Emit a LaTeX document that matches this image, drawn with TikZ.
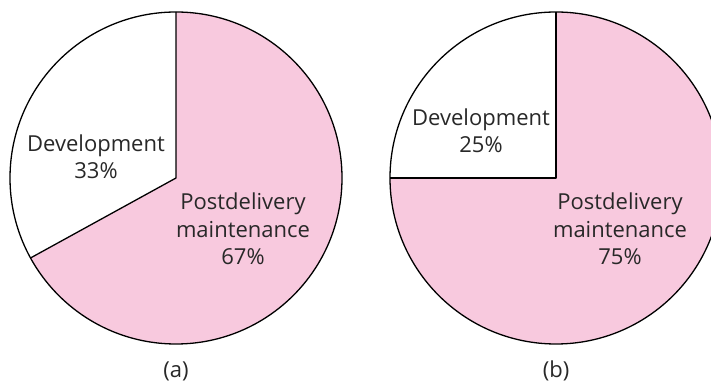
\documentclass[tikz,border=0pt]{standalone}
\usepackage{fontspec}
\setmainfont{Open Sans}
\usetikzlibrary{calc}
\definecolor{piepink}{RGB}{248,201,222}
\definecolor{txt}{RGB}{40,40,40}
\begin{document}
\begin{tikzpicture}[x=1pt,y=1pt,
  lbl/.style={text=txt,font=\fontsize{22}{27.5}\selectfont,align=center,inner sep=0pt},
  edge/.style={draw=black,line width=1.3pt,line join=round}]
\useasboundingbox (0,0) rectangle (711,382);
\clip (0,0) rectangle (711,382);
% pie (a)
\coordinate (ca) at (176,204);
\fill[piepink] (ca) -- ++(90:166) arc[start angle=90,end angle=-151.2,radius=166] -- cycle;
\draw[edge] (ca) circle[radius=166];
\draw[edge] ($(ca)+(90:166)$) -- (ca) -- ($(ca)+(208.8:166)$);
% pie (b)
\coordinate (cb) at (556,204);
\fill[piepink] (cb) -- ++(90:166) arc[start angle=90,end angle=-180,radius=166] -- cycle;
\draw[edge] (cb) circle[radius=166];
\draw[edge] ($(cb)+(90:166)$) -- (cb) -- ($(cb)+(180:166)$);
% labels
\node[lbl] (deva) at (96,225) {Development\\33\%};
\node[lbl] (pma) at (243,153) {Postdelivery\\maintenance\\67\%};
\node[lbl] (devb) at (481,251) {Development\\25\%};
\node[lbl] (pmb) at (620,153) {Postdelivery\\maintenance\\75\%};
\node[lbl] (a) at (176,11) {(a)};
\node[lbl] (b) at (556,11) {(b)};
\end{tikzpicture}
\end{document}
